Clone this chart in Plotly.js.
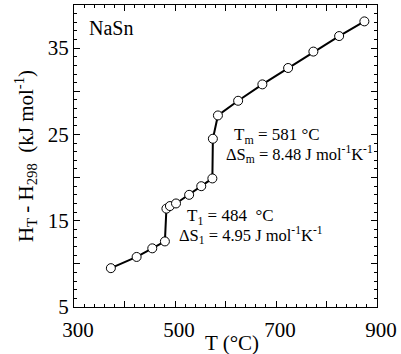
<!DOCTYPE html>
<html>
<head>
<meta charset="utf-8">
<script src="https://cdn.plot.ly/plotly-3.0.1.min.js"></script>
<style>html,body{margin:0;padding:0;background:#fff;}</style>
</head>
<body>
<div id="chart" style="width:401px;height:354px;"></div>
<script>
// Data
const temperatureC = [373, 424, 455, 480, 483, 490, 502, 528, 552, 574, 575, 585, 625, 673, 724, 774, 825, 875];
const enthalpy = [9.5, 10.8, 11.8, 12.6, 16.4, 16.7, 17.0, 18.0, 19.0, 19.9, 24.5, 27.2, 28.9, 30.8, 32.7, 34.6, 36.4, 38.1];
const xTickVals = [300, 400, 500, 600, 700, 800, 900];
const xTickText = ['300', '', '500', '', '700', '', '900'];
const yTickVals = [5, 10, 15, 20, 25, 30, 35, 40];
const yTickText = ['5', '', '15', '', '25', '', '35', ''];

const serif = '"Liberation Serif", "Times New Roman", Times, serif';

const trace = {
  x: temperatureC,
  y: enthalpy,
  mode: 'lines+markers',
  line: {color: '#000', width: 2},
  marker: {symbol: 'circle', size: 9, color: '#fff', line: {color: '#000', width: 1}},
  showlegend: false,
  hoverinfo: 'skip'
};

// invisible copy bound to the mirror axes so they get drawn (ticks on top/right)
const mirrorTrace = {
  x: temperatureC,
  y: enthalpy,
  xaxis: 'x2', yaxis: 'y2',
  mode: 'markers',
  marker: {opacity: 0},
  showlegend: false,
  hoverinfo: 'skip'
};

const axisCommon = {
  showline: true, linecolor: '#000', linewidth: 1,
  ticks: 'inside', ticklen: 6, tickcolor: '#000', tickwidth: 1,
  showgrid: false, zeroline: false,
  tickfont: {family: serif, size: 21, color: '#000'}
};

const layout = {
  width: 401, height: 354,
  margin: {l: 74, r: 24, t: 5, b: 47},
  paper_bgcolor: '#fff', plot_bgcolor: '#fff',
  font: {family: serif, color: '#000'},
  xaxis: Object.assign({}, axisCommon, {
    range: [300, 900], tickmode: 'array', tickvals: xTickVals, ticktext: xTickText,
    ticklabelstandoff: 4, ticklabelshift: 4,
    minor: {dtick: 20, ticks: 'inside', ticklen: 3, tickcolor: '#000', showgrid: false}
  }),
  xaxis2: Object.assign({}, axisCommon, {
    range: [300, 900], overlaying: 'x', side: 'top', anchor: 'y',
    tickmode: 'array', tickvals: xTickVals, showticklabels: false,
    minor: {dtick: 20, ticks: 'inside', ticklen: 3, tickcolor: '#000', showgrid: false}
  }),
  yaxis: Object.assign({}, axisCommon, {
    range: [5, 40], tickmode: 'array', tickvals: yTickVals, ticktext: yTickText,
    minor: {dtick: 1, ticks: 'inside', ticklen: 3, tickcolor: '#000', showgrid: false},
    title: {text: 'H<sub>T</sub> - H<sub>298</sub>  (kJ mol<sup>-1</sup>)', font: {family: serif, size: 21, color: '#000'}, standoff: 8}
  }),
  yaxis2: Object.assign({}, axisCommon, {
    range: [5, 40], overlaying: 'y', side: 'right', anchor: 'x',
    tickmode: 'array', tickvals: yTickVals, showticklabels: false,
    minor: {dtick: 1, ticks: 'inside', ticklen: 3, tickcolor: '#000', showgrid: false}
  }),
  annotations: [
    {xref: 'paper', yref: 'paper', x: 0.52, y: -0.118, xanchor: 'center', yanchor: 'middle',
     text: 'T (°C)', showarrow: false, font: {family: serif, size: 21, color: '#000'}},
    {xref: 'x', yref: 'y', x: 326, y: 37.3, xanchor: 'left', yanchor: 'middle',
     text: 'NaSn', showarrow: false, font: {family: serif, size: 20, color: '#000'}},
    {xref: 'x', yref: 'y', x: 612, y: 24.8, xanchor: 'left', yanchor: 'middle',
     text: 'T<sub>m</sub> = 581 °C', showarrow: false, font: {family: serif, size: 17, color: '#000'}},
    {xref: 'x', yref: 'y', x: 598, y: 22.7, xanchor: 'left', yanchor: 'middle',
     text: 'ΔS<sub>m</sub> = 8.48 J mol<sup>-1</sup>K<sup>-1</sup>', showarrow: false, font: {family: serif, size: 16.5, color: '#000'}},
    {xref: 'x', yref: 'y', x: 520, y: 15.4, xanchor: 'left', yanchor: 'middle',
     text: 'T<sub>1</sub> = 484\u00a0 °C', showarrow: false, font: {family: serif, size: 17, color: '#000'}},
    {xref: 'x', yref: 'y', x: 503, y: 13.4, xanchor: 'left', yanchor: 'middle',
     text: 'ΔS<sub>1</sub> = 4.95 J mol<sup>-1</sup>K<sup>-1</sup>', showarrow: false, font: {family: serif, size: 16.5, color: '#000'}}
  ]
};

Plotly.newPlot('chart', [trace, mirrorTrace], layout, {staticPlot: true, displayModeBar: false});
</script>
</body>
</html>
